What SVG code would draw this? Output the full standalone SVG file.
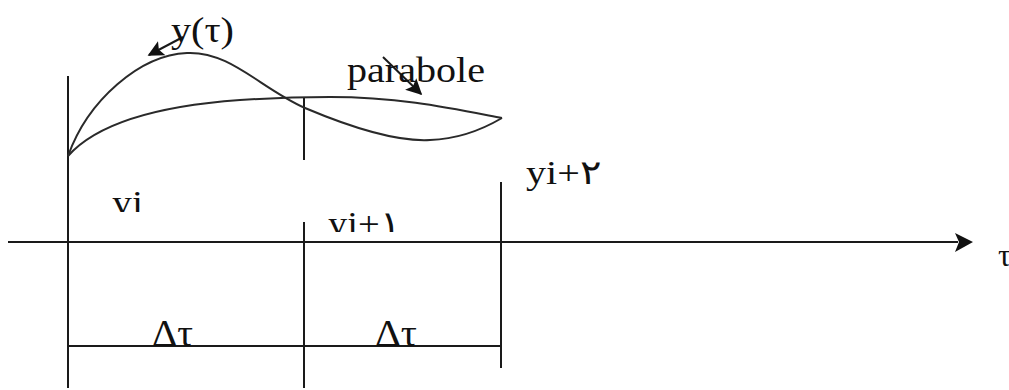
<svg xmlns="http://www.w3.org/2000/svg" width="1009" height="390" viewBox="0 0 1009 390">
<style>
.ln{stroke:#1a1a1a;stroke-width:2;fill:none}
.cv{stroke:#2a2a2a;stroke-width:2;fill:none}
.t{font-family:"Liberation Serif","Times New Roman",serif;fill:#111}
</style>
<defs>
<marker id="ah" viewBox="0 0 10 10" refX="9" refY="5" markerWidth="9" markerHeight="8" orient="auto" markerUnits="strokeWidth">
<path d="M0,0 L10,5 L0,10 L2,5 Z" fill="#111"/>
</marker>
<clipPath id="c1"><rect x="100" y="170" width="60" height="42"/></clipPath>
<clipPath id="c2"><rect x="320" y="190" width="90" height="42"/></clipPath>
</defs>
<rect width="1009" height="390" fill="#fff"/>
<g id="axes">
<line class="ln" x1="8" y1="242" x2="958" y2="242"/>
<path d="M973,242 L955,233 L959,242 L955,252 Z" fill="#111"/>
<line class="ln" x1="68" y1="76" x2="68" y2="388"/>
<line class="ln" x1="304" y1="98" x2="304" y2="160"/>
<line class="ln" x1="304" y1="222" x2="304" y2="388"/>
<line class="ln" x1="501" y1="182" x2="501" y2="368"/>
<line class="ln" x1="68" y1="346" x2="501" y2="346"/>
</g>
<g id="curves">
<path class="cv" d="M68,156 C88,100 140,55 187,53 C230,51 260,88 305,108 C350,127 395,142 430,140 C460,139 485,128 502,118"/>
<path class="cv" d="M68,156 C100,120 170,105 240,100 C270,98 300,97 330,97 C400,97 450,108 502,118"/>
</g>
<g id="connectors">
<line class="ln" x1="183" y1="37" x2="149" y2="55" marker-end="url(#ah)"/>
<line class="ln" x1="383" y1="57" x2="421" y2="94" marker-end="url(#ah)"/>
</g>
<g id="labels">
<text class="t" x="171" y="42" font-size="36" textLength="63" lengthAdjust="spacingAndGlyphs">y(τ)</text>
<text class="t" x="347" y="82" font-size="36" textLength="138" lengthAdjust="spacingAndGlyphs">parabole</text>
<g clip-path="url(#c1)"><text class="t" x="112" y="214" font-size="34" textLength="31" lengthAdjust="spacingAndGlyphs">yi</text></g>
<g clip-path="url(#c2)"><text class="t" x="328" y="235" font-size="34" textLength="72" lengthAdjust="spacingAndGlyphs">yi+۱</text></g>
<text class="t" x="526" y="184" font-size="34" textLength="75" lengthAdjust="spacingAndGlyphs">yi+۲</text>
<text class="t" x="152" y="346" font-size="38" textLength="41" lengthAdjust="spacingAndGlyphs">Δτ</text>
<text class="t" x="375" y="346" font-size="38" textLength="42" lengthAdjust="spacingAndGlyphs">Δτ</text>
<text class="t" x="998" y="266" font-size="32">τ</text>
</g>
</svg>
